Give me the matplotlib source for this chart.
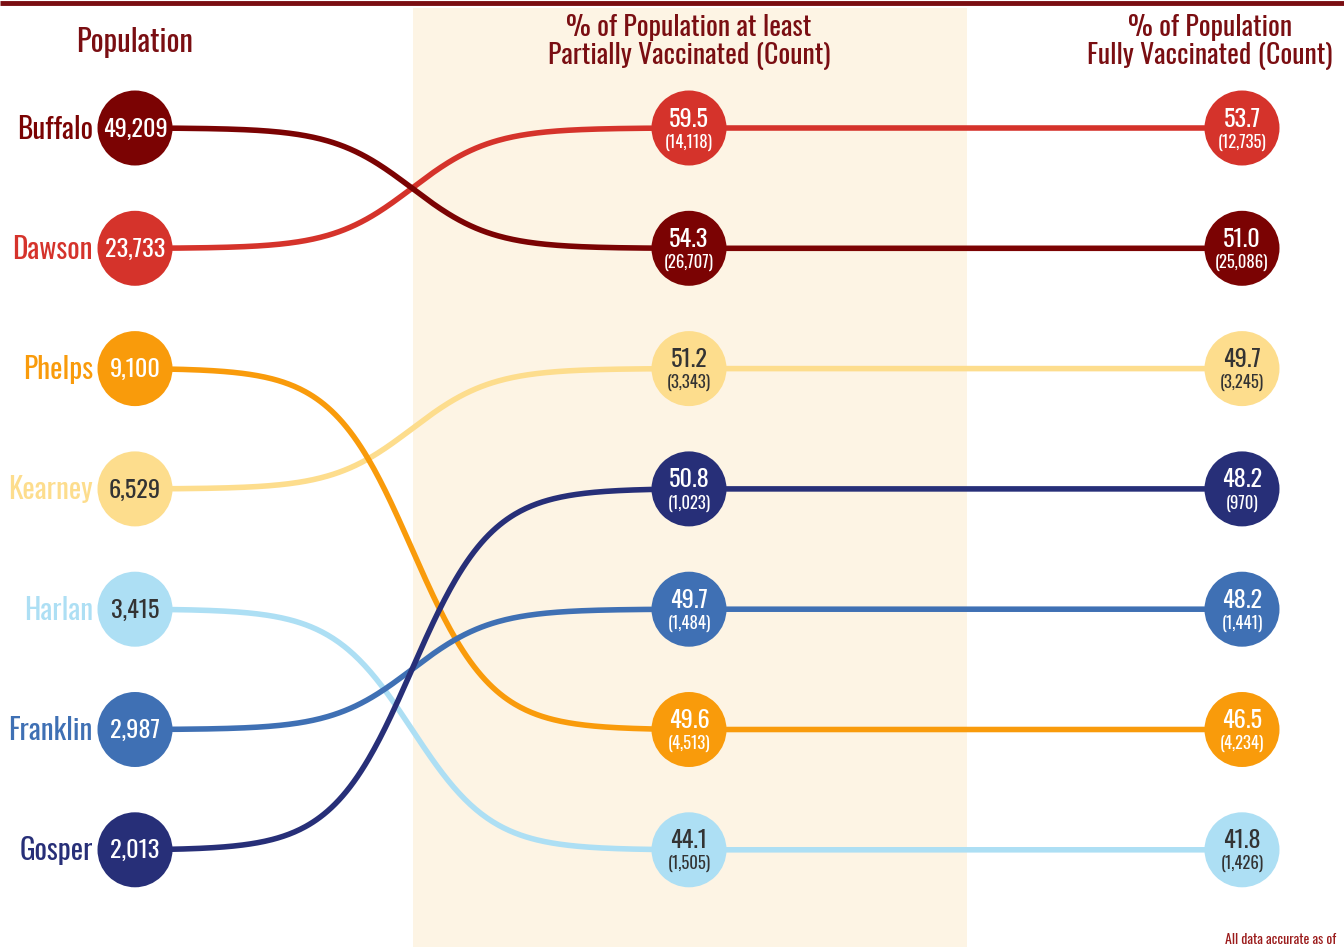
import numpy as np
import matplotlib
matplotlib.use("Agg")
import matplotlib.pyplot as plt
from matplotlib.patches import Circle, Rectangle
from matplotlib import font_manager as fm

counties = ['Buffalo', 'Dawson', 'Phelps', 'Kearney', 'Harlan', 'Franklin', 'Gosper']
population = [49209, 23733, 9100, 6529, 3415, 2987, 2013]
partial_pct = [54.3, 59.5, 49.6, 51.2, 44.1, 49.7, 50.8]
partial_cnt = [26707, 14118, 4513, 3343, 1505, 1484, 1023]
full_pct = [51.0, 53.7, 46.5, 49.7, 41.8, 48.2, 48.2]
full_cnt = [25086, 12735, 4234, 3245, 1426, 1441, 970]
colors = ['#7B0303', '#D5332B', '#F99B0B', '#FDDD8D', '#ADDFF4', '#3F70B4', '#272F78']
text_colors = ['white', 'white', 'white', '#333333', '#333333', 'white', 'white']
name_colors = colors
col_titles = ['Population', '% of Population at least\nPartially Vaccinated (Count)',
              '% of Population\nFully Vaccinated (Count)']
footnote = 'All data accurate as of'

avail = {f.name for f in fm.fontManager.ttflist}
fam = [f for f in ['Oswald', 'Liberation Sans Narrow', 'DejaVu Sans Condensed', 'DejaVu Sans'] if f in avail]
plt.rcParams['font.family'] = fam
plt.rcParams['font.weight'] = 'medium'

W, H = 1344, 947
fig = plt.figure(figsize=(W / 100, H / 100), dpi=100)
ax = fig.add_axes([0, 0, 1, 1])
ax.set_xlim(0, W)
ax.set_ylim(H, 0)
ax.axis('off')

title_c = '#7A0E12'
# background band
ax.add_patch(Rectangle((413, 8), 554, H, color='#FDF4E4', zorder=0, lw=0))
ax.plot([0, W], [3, 3], color='#7A0E12', lw=3.5, zorder=1, solid_capstyle='butt')

xL, xM, xR = 135, 689, 1242
y0, dy = 128, 120.3
r = 37.5

n = len(counties)
pop_rank = np.argsort(-np.array(population), kind='stable')
left_pos = np.empty(n, int); left_pos[pop_rank] = np.arange(n)
mid_rank = np.argsort(-np.array(partial_pct), kind='stable')
mid_pos = np.empty(n, int); mid_pos[mid_rank] = np.arange(n)

k = 0.025
xc0 = (xL + xM) / 2
sig = lambda x: 1 / (1 + np.exp(-k * (x - xc0)))
xs_curve = np.linspace(xL, xM, 300)
s = (sig(xs_curve) - sig(xL)) / (sig(xM) - sig(xL))

order = [4, 3, 2, 1, 0, 5, 6]
for i in order:
    ya = y0 + dy * left_pos[i]
    yb = y0 + dy * mid_pos[i]
    xs = np.concatenate([xs_curve, [xR]])
    ys = np.concatenate([ya + (yb - ya) * s, [yb]])
    ax.plot(xs, ys, color=colors[i], lw=4.0, zorder=2, solid_capstyle='round')

for i in range(n):
    ya = y0 + dy * left_pos[i]
    yb = y0 + dy * mid_pos[i]
    for xc, yc in [(xL, ya), (xM, yb), (xR, yb)]:
        ax.add_patch(Circle((xc, yc), r, color=colors[i], zorder=3, lw=0))
    ax.text(xL, ya + 1, f'{population[i]:,}', ha='center', va='center', fontsize=17.5,
            color=text_colors[i], zorder=4)
    ax.text(93, ya + 1, counties[i], ha='right', va='center', fontsize=21,
            color=name_colors[i], zorder=4)
    for xc, p, c in [(xM, partial_pct[i], partial_cnt[i]), (xR, full_pct[i], full_cnt[i])]:
        ax.text(xc, yb - 9, f'{p:.1f}', ha='center', va='center', fontsize=17.5,
                color=text_colors[i], zorder=4)
        ax.text(xc, yb + 14, f'({c:,})', ha='center', va='center', fontsize=12,
                color=text_colors[i], zorder=4)

ax.text(xL, 42, col_titles[0], ha='center', va='center', fontsize=22, color=title_c)
ax.text(xM, 42, col_titles[1], ha='center', va='center', fontsize=20, color=title_c,
        linespacing=1.05)
ax.text(1210, 42, col_titles[2], ha='center', va='center', fontsize=20, color=title_c,
        linespacing=1.05)
ax.text(1225, 939, footnote, ha='left', va='center', fontsize=10, color='#9B1B1B',
        fontweight='bold')

fig.savefig('out.png', dpi=100)
